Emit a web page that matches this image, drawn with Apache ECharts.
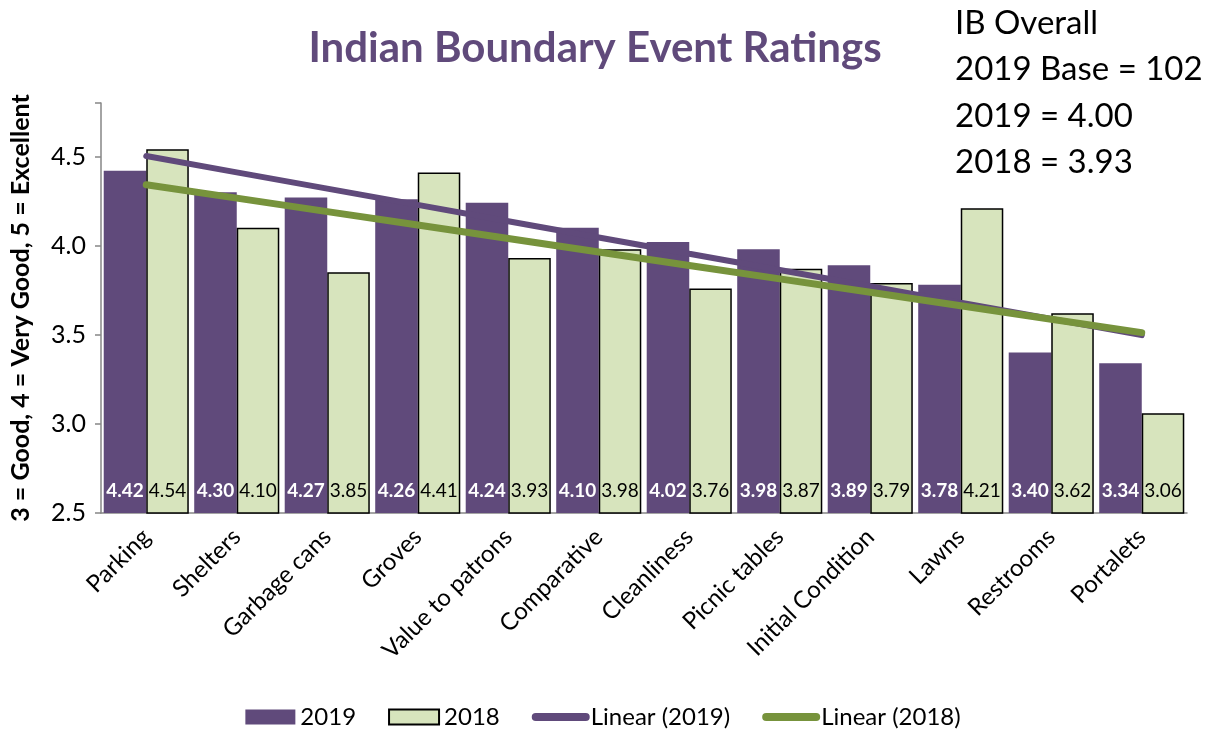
<!DOCTYPE html>
<html>
<head>
<meta charset="utf-8">
<title>Indian Boundary Event Ratings</title>
<script src="https://cdn.jsdelivr.net/npm/echarts@6/dist/echarts.min.js"></script>
<style>
	html, body { margin: 0; padding: 0; background: #fff; }
	#chart { width: 1206px; height: 734px; }
</style>
</head>
<body>
<div id="chart"></div>
<script>
	// categories and ratings
	var categories = ['Parking', 'Shelters', 'Garbage cans', 'Groves', 'Value to patrons', 'Comparative',
		'Cleanliness', 'Picnic tables', 'Initial Condition', 'Lawns', 'Restrooms', 'Portalets'];
	var ratings2019 = [4.42, 4.30, 4.27, 4.26, 4.24, 4.10, 4.02, 3.98, 3.89, 3.78, 3.40, 3.34];
	var ratings2018 = [4.54, 4.10, 3.85, 4.41, 3.93, 3.98, 3.76, 3.87, 3.79, 4.21, 3.62, 3.06];
	var yTicks = [2.5, 3.0, 3.5, 4.0, 4.5];
	var notes = ['IB Overall', '2019 Base = 102', '2019 = 4.00', '2018 = 3.93'];

	var font = 'Lato, "Open Sans", sans-serif';

	// least squares trend line, same as Excel's "Linear" trendline
	function linearTrend(values) {
		var n = values.length, sx = 0, sy = 0, sxy = 0, sxx = 0;
		values.forEach(function (v, i) {
			var x = i + 1;
			sx += x; sy += v; sxy += x * v; sxx += x * x;
		});
		var slope = (n * sxy - sx * sy) / (n * sxx - sx * sx);
		var icpt = (sy - slope * sx) / n;
		return values.map(function (v, i) { return +(icpt + slope * (i + 1)).toFixed(4); });
	}

	var myChart = echarts.init(document.getElementById('chart'));
	myChart.setOption({
		animation: false,
		textStyle: { fontFamily: font },
		title: {
			text: 'Indian Boundary Event Ratings',
			left: 590,
			textAlign: 'center',
			top: 22,
			textStyle: { fontSize: 42, fontWeight: 'bold', color: '#604a7b', fontFamily: font }
		},
		graphic: [{
			type: 'text',
			left: 955,
			top: 0,
			style: {
				text: notes.join('\n'),
				fontSize: 33,
				lineHeight: 46.5,
				fill: '#000',
				fontFamily: font
			}
		}],
		legend: {
			bottom: 0,
			left: 'center',
			itemWidth: 50,
			itemHeight: 15,
			itemGap: 32,
			textStyle: { fontSize: 24, color: '#000', fontFamily: font },
			data: [
				{ name: '2019', icon: 'rect' },
				{ name: '2018', icon: 'rect' },
				{ name: 'Linear (2019)', itemStyle: { opacity: 0 }, lineStyle: { width: 8, cap: 'round' } },
				{ name: 'Linear (2018)', itemStyle: { opacity: 0 }, lineStyle: { width: 8, cap: 'round' } }
			]
		},
		grid: { left: 100, right: 19, top: 103, bottom: 221 },
		xAxis: {
			type: 'category',
			data: categories,
			axisLine: { lineStyle: { color: '#868686', width: 1.5 } },
			axisTick: { length: 6, lineStyle: { color: '#868686', width: 1.5 } },
			axisLabel: { rotate: 45, fontSize: 24, color: '#000', margin: 20, interval: 0 }
		},
		yAxis: {
			type: 'value',
			min: 2.5,
			max: 4.8,
			interval: 0.5,
			name: '3 = Good, 4 = Very Good, 5 = Excellent',
			nameLocation: 'middle',
			nameGap: 68,
			nameTextStyle: { fontSize: 25, fontWeight: 'bold', color: '#000' },
			splitLine: { show: false },
			axisLine: { show: true, lineStyle: { color: '#868686', width: 1.5 } },
			axisTick: { show: true, length: 6, lineStyle: { color: '#868686', width: 1.5 } },
			axisLabel: {
				fontSize: 25, color: '#000', margin: 15,
				formatter: function (v) {
					return yTicks.indexOf(v) >= 0 ? v.toFixed(1) : '';
				}
			}
		},
		series: [{
			name: '2019',
			type: 'bar',
			barGap: '0%',
			barCategoryGap: '6%',
			itemStyle: { color: '#604a7b' },
			label: {
				show: true, position: 'insideBottom', distance: 13,
				color: '#fff', fontWeight: 'bold', fontSize: 19,
				formatter: function (p) { return p.value.toFixed(2); }
			},
			data: ratings2019
		}, {
			name: '2018',
			type: 'bar',
			itemStyle: { color: '#d7e4bd', borderColor: '#000', borderWidth: 1.5 },
			label: {
				show: true, position: 'insideBottom', distance: 13,
				color: '#000', fontSize: 19,
				formatter: function (p) { return p.value.toFixed(2); }
			},
			data: ratings2018
		}, {
			name: 'Linear (2019)',
			type: 'line',
			symbol: 'none',
			itemStyle: { color: '#604a7b' },
			lineStyle: { color: '#604a7b', width: 6, cap: 'round' },
			data: linearTrend(ratings2019)
		}, {
			name: 'Linear (2018)',
			type: 'line',
			symbol: 'none',
			itemStyle: { color: '#77933c' },
			lineStyle: { color: '#77933c', width: 7, cap: 'round' },
			data: linearTrend(ratings2018)
		}]
	});
</script>
</body>
</html>
